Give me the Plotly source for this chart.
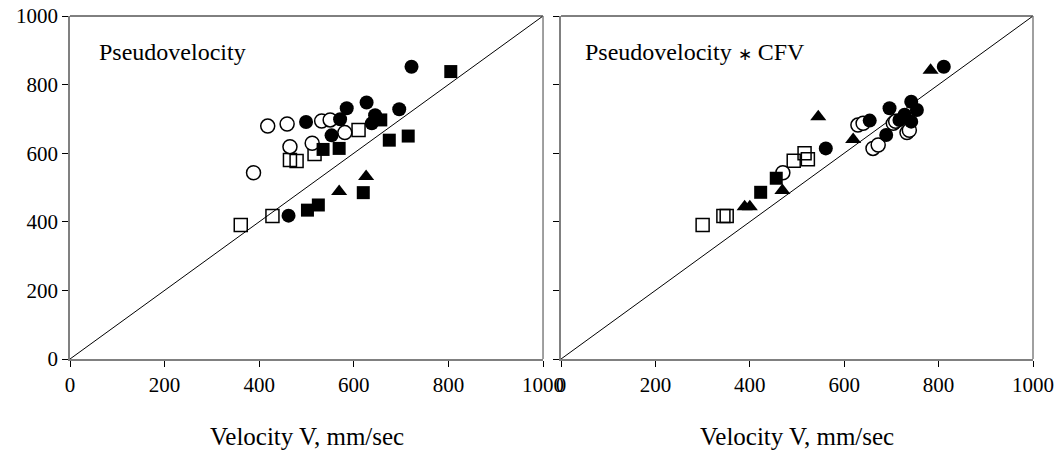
import plotly.graph_objects as go

# ---------------- data ----------------
# Left panel: Pseudovelocity vs Velocity V
L_fcirc_x = [722, 627, 585, 696, 499, 571, 645, 638, 553, 462]
L_fcirc_y = [852, 748, 731, 728, 691, 699, 711, 687, 652, 418]
L_ocirc_x = [418, 459, 532, 550, 581, 465, 512, 388]
L_ocirc_y = [679, 685, 694, 697, 660, 619, 629, 543]
L_osq_x = [610, 465, 479, 517, 361, 428]
L_osq_y = [668, 580, 577, 598, 391, 417]
L_fsq_x = [805, 657, 675, 715, 535, 569, 620, 502, 525]
L_fsq_y = [838, 697, 638, 650, 611, 614, 485, 434, 449]
L_tri_x = [626, 569]
L_tri_y = [532, 488]

# Right panel: Pseudovelocity * CFV vs Velocity V
R_fcirc_x = [811, 742, 696, 754, 728, 717, 742, 654, 689, 561]
R_fcirc_y = [852, 750, 731, 726, 712, 697, 692, 695, 653, 614]
R_ocirc_x = [629, 640, 704, 709, 733, 738, 661, 672, 470]
R_ocirc_y = [682, 687, 687, 693, 660, 667, 614, 624, 543]
R_osq_x = [516, 523, 493, 300, 344, 351]
R_osq_y = [600, 582, 578, 391, 417, 417]
R_fsq_x = [456, 423]
R_fsq_y = [527, 486]
R_tri_x = [783, 545, 619, 469, 389, 400]
R_tri_y = [842, 706, 640, 491, 444, 444]

ticks = [0, 200, 400, 600, 800, 1000]
panel_labels = ["Pseudovelocity",
                "Pseudovelocity <span style='font-size:17px'>\u2217</span> CFV"]
x_title = "Velocity V, mm/sec"

FONT = "Liberation Serif, Times New Roman, serif"

fig = go.Figure()

def add_panel(xa, ya, fc, oc, osq, fsq, tri):
    ref = dict(xaxis=xa, yaxis=ya)
    # identity line
    fig.add_trace(go.Scatter(x=[0, 1000], y=[0, 1000], mode="lines",
                             line=dict(color="black", width=1), showlegend=False,
                             hoverinfo="skip", **ref))
    fig.add_trace(go.Scatter(x=osq[0], y=osq[1], mode="markers", showlegend=False,
                             marker=dict(symbol="square-open", size=13, color="black",
                                         line=dict(width=1.5, color="black")), **ref))
    fig.add_trace(go.Scatter(x=oc[0], y=oc[1], mode="markers", showlegend=False,
                             marker=dict(symbol="circle", size=14, color="white",
                                         line=dict(width=1.5, color="black")), **ref))
    fig.add_trace(go.Scatter(x=fsq[0], y=fsq[1], mode="markers", showlegend=False,
                             marker=dict(symbol="square", size=13, color="black"), **ref))
    fig.add_trace(go.Scatter(x=tri[0], y=tri[1], mode="markers", showlegend=False,
                             marker=dict(symbol="triangle-up", size=14, color="black"), **ref))
    fig.add_trace(go.Scatter(x=fc[0], y=fc[1], mode="markers", showlegend=False,
                             marker=dict(symbol="circle", size=14, color="black"), **ref))

add_panel("x", "y", (L_fcirc_x, L_fcirc_y), (L_ocirc_x, L_ocirc_y),
          (L_osq_x, L_osq_y), (L_fsq_x, L_fsq_y), (L_tri_x, L_tri_y))
add_panel("x2", "y2", (R_fcirc_x, R_fcirc_y), (R_ocirc_x, R_ocirc_y),
          (R_osq_x, R_osq_y), (R_fsq_x, R_fsq_y), (R_tri_x, R_tri_y))

axis_common = dict(range=[0, 1000], tickvals=ticks, ticks="outside", ticklen=6,
                   tickcolor="black", showgrid=False, zeroline=False, automargin=False,
                   showline=True, linecolor="#808080", linewidth=1.5, mirror=False,
                   tickfont=dict(family=FONT, size=21, color="black"))

fig.update_layout(
    template="none",
    width=1064, height=457, autosize=False,
    margin=dict(l=70, r=31, t=16, b=98, autoexpand=False),
    paper_bgcolor="white", plot_bgcolor="white",
    font=dict(family=FONT, color="black"),
    hovermode=False,
    xaxis=dict(domain=[0, 0.4912], anchor="y", ticklabelstandoff=0, **axis_common),
    yaxis=dict(domain=[0, 1], anchor="x", **axis_common),
    xaxis2=dict(domain=[0.5099, 1], anchor="y2", ticklabelstandoff=0, **axis_common),
    yaxis2=dict(domain=[0, 1], anchor="x2", showticklabels=False, **axis_common),
)

# top/right frame lines
for xr, yr in [("x domain", "y domain"), ("x2 domain", "y2 domain")]:
    fig.add_shape(type="line", xref=xr, yref=yr, x0=0, x1=1, y0=1, y1=1,
                  line=dict(color="black", width=1))
    fig.add_shape(type="line", xref=xr, yref=yr, x0=1, x1=1, y0=0, y1=1,
                  line=dict(color="#808080", width=1.5))

# panel labels
fig.add_annotation(text=panel_labels[0], xref="x domain", yref="y domain",
                   x=0.057, y=0.895, xanchor="left", yanchor="middle", showarrow=False,
                   font=dict(family=FONT, size=24, color="black"))
fig.add_annotation(text=panel_labels[1], xref="x2 domain", yref="y2 domain",
                   x=0.047, y=0.895, xanchor="left", yanchor="middle", showarrow=False,
                   font=dict(family=FONT, size=24, color="black"))

# axis titles
for xr in ["x domain", "x2 domain"]:
    fig.add_annotation(text=x_title, xref=xr, yref="paper", x=0.5, y=-0.226,
                       xanchor="center", yanchor="middle", showarrow=False,
                       font=dict(family=FONT, size=25, color="black"))

fig.write_html("out.html", config={"displayModeBar": False},
               post_script="document.body.style.margin='0';document.body.style.padding='0';")
